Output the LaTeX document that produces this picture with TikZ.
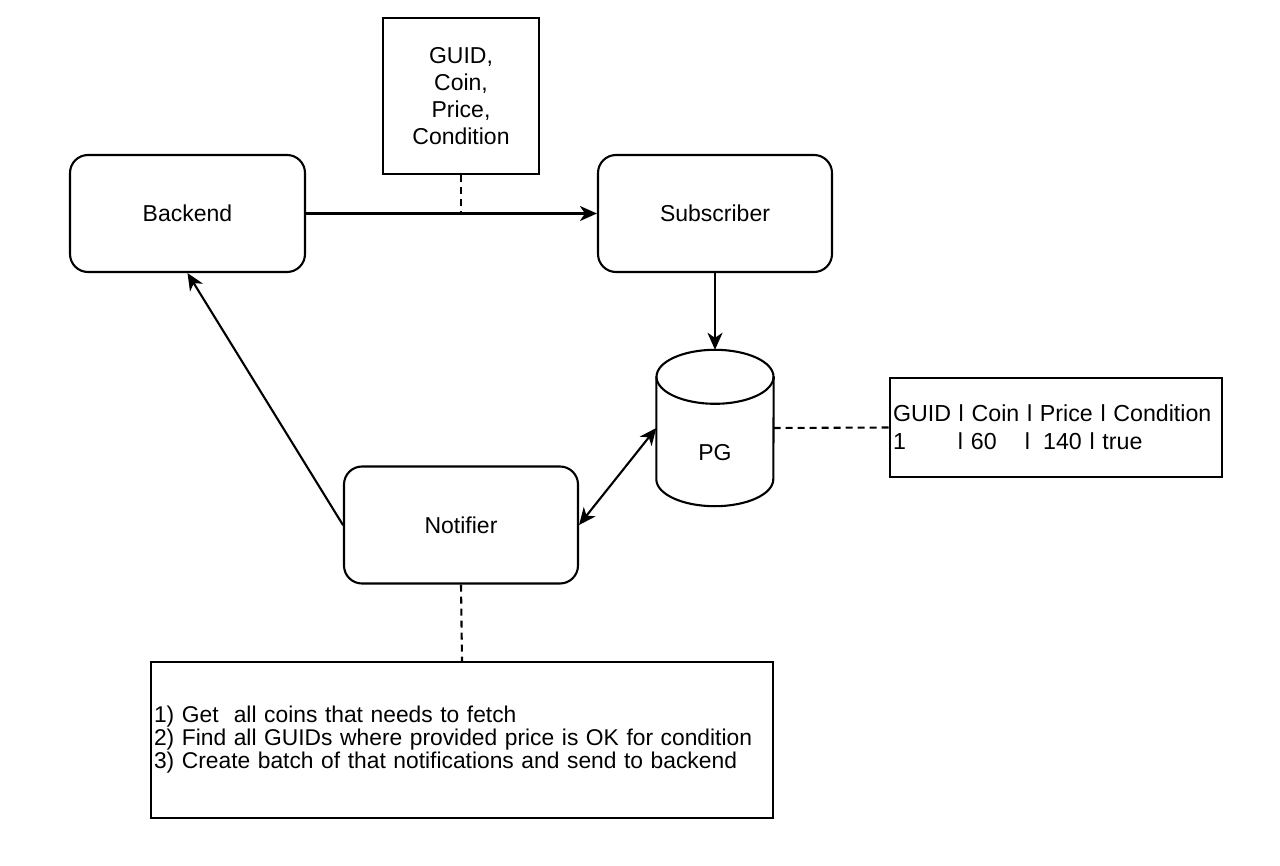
\documentclass[tikz,border=0pt]{standalone}
\usepackage{fontspec}
\setmainfont{Liberation Sans}
\usepackage{tikz}
\usetikzlibrary{calc,arrows.meta}
\definecolor{ink}{HTML}{000000}
\definecolor{paper}{HTML}{FFFFFF}
\tikzset{
  ahead/.tip={Stealth[length=17pt,width=15pt,inset=5pt]},
  base/.style={draw=ink, line width=2.1pt, line cap=round, line join=round},
  txt/.style={text=ink, font=\fontsize{23}{27}\selectfont},
  rbox/.style={base, txt, rounded corners=18pt, minimum width=235pt, minimum height=117pt},
  sbox/.style={base, txt, line join=miter},
  conn/.style={base, -ahead},
  both/.style={base, ahead-ahead},
  dashline/.style={draw=ink, line width=2.1pt, dash pattern=on 7pt off 5pt}
}

\begin{document}
\begin{tikzpicture}[x=1pt,y=-1pt]
  \fill[paper] (0,0) rectangle (1280,866);
  \useasboundingbox (0,0) rectangle (1280,866);

  % services
  \node[rbox] (backend) at (187.5,213.5) {Backend};
  \node[rbox, minimum width=234pt] (subscriber) at (715,213.5) {Subscriber};
  \node[rbox, minimum width=234pt] (notifier) at (461,525) {Notifier};
  \node[sbox, minimum width=156pt, minimum height=156pt, align=center] (payload) at (461,96)
    {GUID,\\Coin,\\Price,\\Condition};

  % database
  \node[minimum width=117pt, minimum height=156pt, inner sep=0pt] (pg) at (715,428) {};
  \draw[base] ($(pg.north)+(0,27)$) ellipse [x radius=58.5pt, y radius=27pt];
  \draw[base] ($(pg.north west)+(0,27)$) -- ($(pg.south west)+(0,-27)$)
    arc[start angle=180, end angle=360, x radius=58.5pt, y radius=27pt]
    -- ($(pg.north east)+(0,27)$);
  \node[txt] (pglab) at (715,453) {PG};

  % notes
  \node[sbox, minimum width=332pt, minimum height=99pt, text width=326pt, inner sep=3pt,
    align=left, font=\fontsize{23.2}{28}\selectfont] (table) at (1056,427.5)
    {GUID l Coin l Price l Condition\\
     \makebox[65pt][l]{1}\makebox[67pt][l]{l 60}l\hspace{13pt}140 l true};
  \node[sbox, minimum width=622pt, minimum height=156pt, text width=616pt, inner sep=3pt,
    align=left, font=\fontsize{22.8}{23}\selectfont] (steps) at (462,740)
    {1) Get~ all coins that needs to fetch\\
     2) Find all GUIDs where provided price is OK for condition\\
     3) Create batch of that notifications and send to backend};

  % flows
  \coordinate (tap) at (payload.south |- backend.east);
  \draw[conn] (backend.east) -- (subscriber.west);
  \draw[dashline] (payload.south) -- (tap);
  \draw[conn] (subscriber.south) -- (pg.north);
  \draw[dashline] (pg.east) -- (table.west);
  \draw[both] (notifier.east) -- (pg.west);
  \draw[conn] (notifier.west) -- (backend.south);
  \draw[dashline] (notifier.south) -- (steps.north);
\end{tikzpicture}
\end{document}
